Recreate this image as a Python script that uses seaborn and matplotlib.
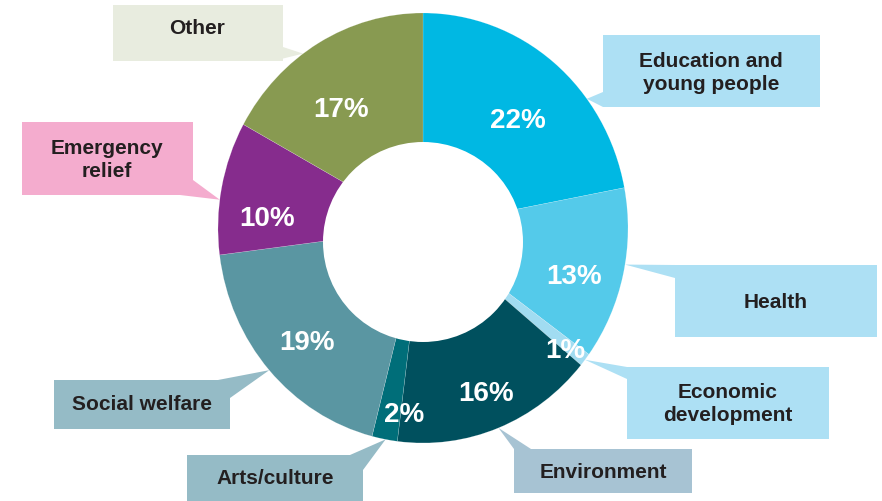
import numpy as np
import matplotlib
matplotlib.use("Agg")
import matplotlib.pyplot as plt
from matplotlib.patches import Polygon, Rectangle, Ellipse
import seaborn as sns

# Share of giving by cause, clockwise from 12 o'clock
categories = [
    "Education and\nyoung people",
    "Health",
    "Economic\ndevelopment",
    "Environment",
    "Arts/culture",
    "Social welfare",
    "Emergency\nrelief",
    "Other",
]
shares = [22, 13, 1, 16, 2, 19, 10, 17]

slice_colors = ["#00b8e3", "#54caea", "#a1dcf1", "#00505e",
                "#006e79", "#5a96a2", "#862c8d", "#889a51"]
box_colors = ["#ade0f4", "#ade0f4", "#ade0f4", "#a7c3d3",
              "#95bbc6", "#95bbc6", "#f4acce", "#e8ecdf"]

# Callout layout in pixel space: box rectangle (x0, y0, x1, y1),
# the two base points of the pointer, the text centre, and where
# along the wedge (0 = clockwise end, 1 = anticlockwise end) the pointer lands.
callouts = {
    "Education and\nyoung people": dict(box=(603, 35, 820, 107), base=[(603, 92), (603, 107)], text=(711, 73), tip=0.33),
    "Health": dict(box=(675, 265, 877, 337), base=[(675, 265), (675, 278)], text=(776, 302), tip=0.56),
    "Economic\ndevelopment": dict(box=(627, 367, 829, 439), base=[(627, 367), (627, 379)], text=(728, 404), tip=0.5),
    "Environment": dict(box=(514, 449, 692, 493), base=[(514, 449), (531, 449)], text=(603, 472), tip=0.5),
    "Arts/culture": dict(box=(187, 455, 363, 501), base=[(350, 455), (363, 470)], text=(275, 478), tip=0.54),
    "Social welfare": dict(box=(54, 380, 230, 429), base=[(218, 380), (230, 398)], text=(142, 405), tip=0.5),
    "Emergency\nrelief": dict(box=(22, 122, 193, 195), base=[(193, 180), (180, 195)], text=(107, 160), tip=0.59),
    "Other": dict(box=(113, 5, 283, 61), base=[(283, 47), (273, 61)], text=(197, 28), tip=0.585),
}
# Percentage label placement: (fraction along wedge, radius)
pct_place = [(0.455, 0.68), (0.40, 0.77), (0.0, 0.90), (0.50, 0.83),
             (1.15, 0.875), (0.53, 0.78), (0.71, 0.76), (0.59, 0.68)]

sns.set_theme(style="white")
plt.rcParams["font.family"] = ["Liberation Sans", "DejaVu Sans"]

W, H = 882, 501
fig = plt.figure(figsize=(W / 100, H / 100), dpi=100)

# Background axes in pixel units for the callout boxes
bx = fig.add_axes([0, 0, 1, 1])
bx.set_xlim(0, W)
bx.set_ylim(H, 0)
bx.axis("off")

# Donut axes sized to the ring's bounding box
cx, cy, rx, ry = 423, 228, 205, 215
ax = fig.add_axes([(cx - rx) / W, (H - cy - ry) / H, 2 * rx / W, 2 * ry / H])
ax.patch.set_alpha(0)
wedges, _ = ax.pie(
    shares,
    colors=slice_colors,
    startangle=90,
    counterclock=False,
    radius=1,
    wedgeprops=dict(edgecolor="#ffffff55", linewidth=0.3),
)
ax.set_aspect("auto")
ax.set_xlim(-1, 1)
ax.set_ylim(-1, 1)
ax.axis("off")

# Centre hole: a round opening of 100 px, sitting a little below the ring centre
hole_r, hole_dy = 100, 14
ax.add_patch(Ellipse((0, -hole_dy / ry), 2 * hole_r / rx, 2 * hole_r / ry,
                     facecolor="white", edgecolor="none", zorder=3))


def wedge_angle(w, frac):
    return np.deg2rad(w.theta1 + frac * (w.theta2 - w.theta1))


to_px = ax.transData + bx.transData.inverted()

for w, cat, fc in zip(wedges, categories, box_colors):
    c = callouts[cat]
    a = wedge_angle(w, c["tip"])
    tip = to_px.transform((np.cos(a), np.sin(a)))
    x0, y0, x1, y1 = c["box"]
    bx.add_patch(Rectangle((x0, y0), x1 - x0, y1 - y0, facecolor=fc, edgecolor="none"))
    bx.add_patch(Polygon([c["base"][0], tip, c["base"][1]], closed=True,
                         facecolor=fc, edgecolor="none"))
    bx.text(c["text"][0], c["text"][1], cat, ha="center", va="center",
            fontsize=15, fontweight="bold", color="#231f20", linespacing=1.25)

for w, v, (f, r) in zip(wedges, shares, pct_place):
    a = wedge_angle(w, f)
    ax.text(r * np.cos(a), r * np.sin(a), f"{v}%", ha="center", va="center",
            fontsize=20, fontweight="bold", color="white", zorder=4)

fig.savefig("out.png", dpi=100)
